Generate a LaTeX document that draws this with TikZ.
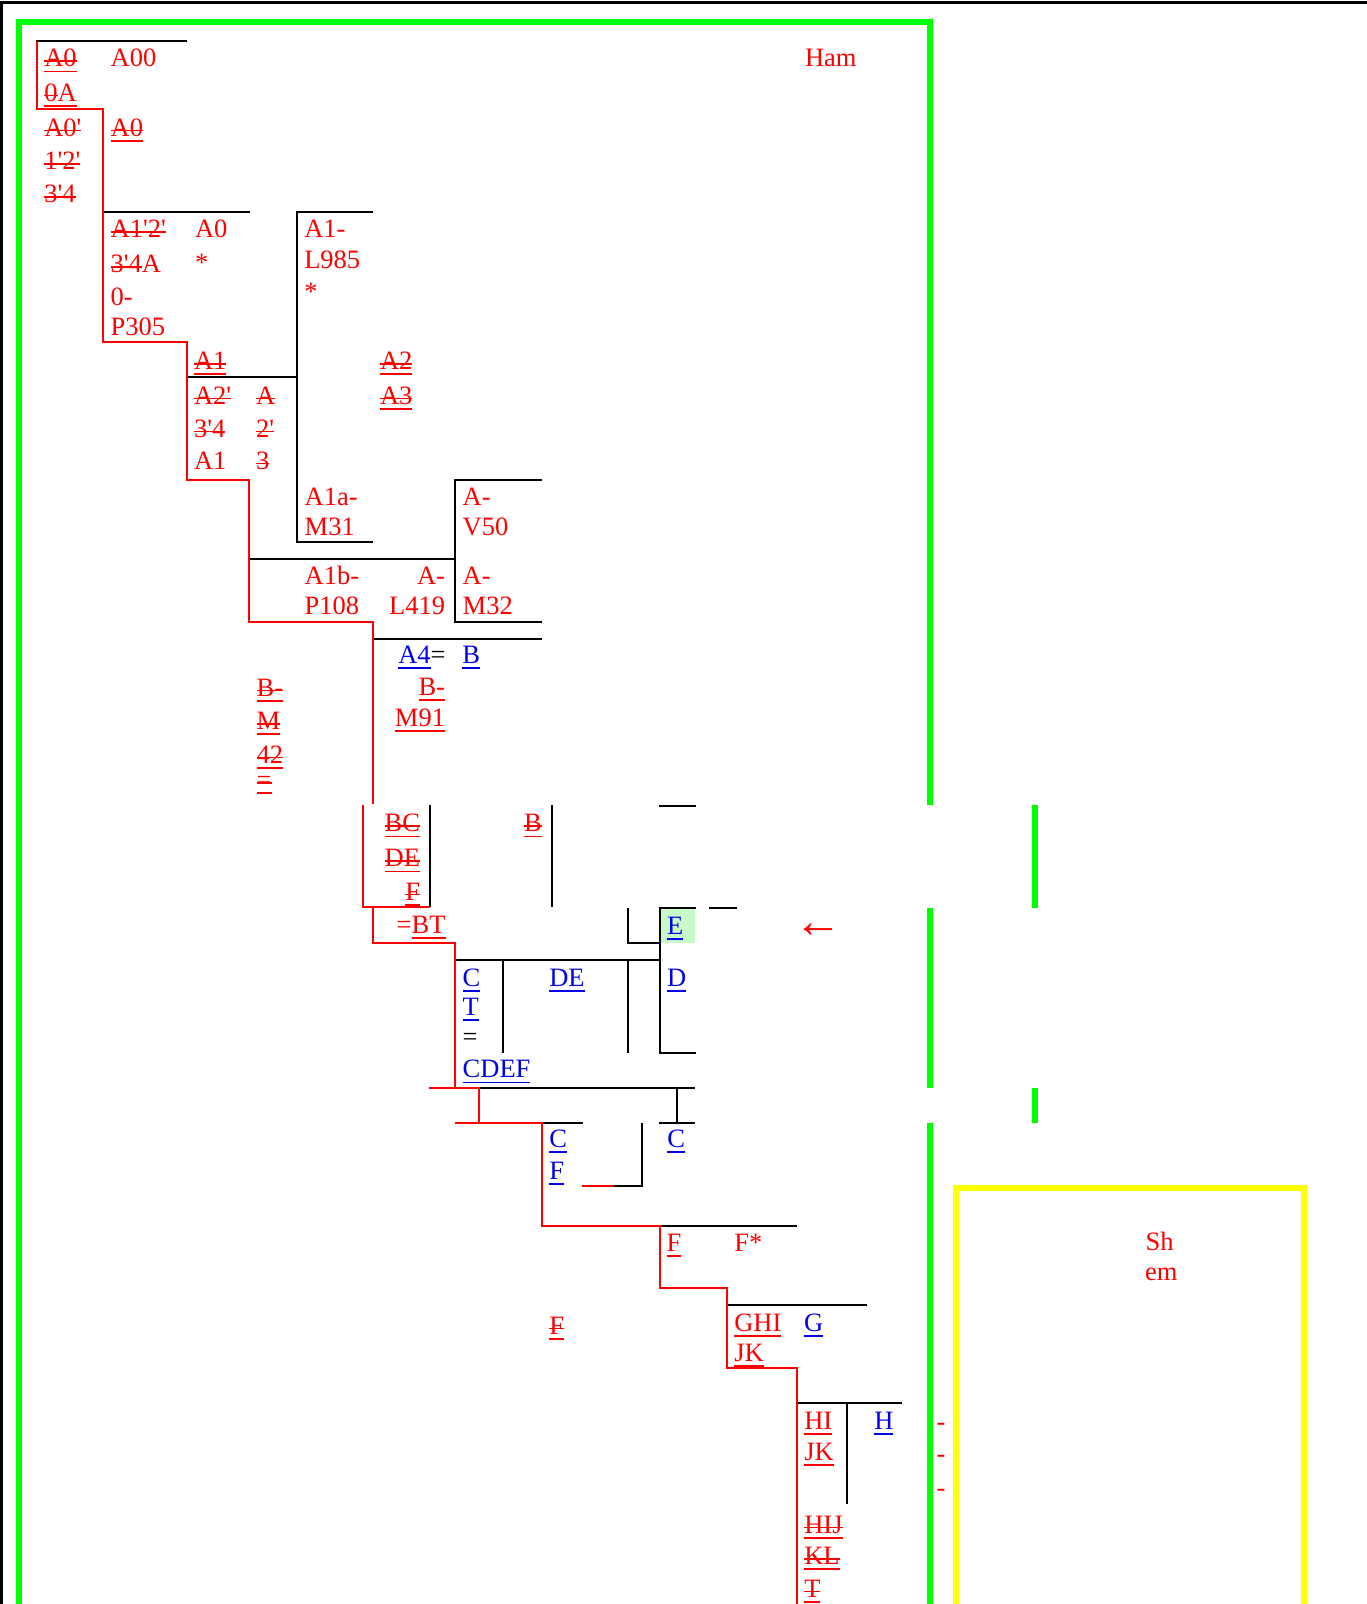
\documentclass[tikz,border=0pt]{standalone}
\usepackage{fontspec}
\setmainfont{Liberation Serif}[Ligatures=TeXOff]
\usetikzlibrary{arrows.meta}
\definecolor{hred}{RGB}{255,0,0}
\definecolor{hblue}{RGB}{0,0,238}
\definecolor{lime}{RGB}{0,255,0}
\definecolor{hyel}{RGB}{255,255,0}
\definecolor{ebg}{RGB}{200,250,200}
\newbox\ULbox
\newbox\SObox
\newcommand\UL[1]{\setbox\ULbox=\hbox{#1}\rlap{\rule[-5.6pt]{\wd\ULbox}{1.7pt}}\box\ULbox}
\newcommand\SO[1]{\setbox\SObox=\hbox{#1}\rlap{\rule[4.6pt]{\wd\SObox}{1.7pt}}\box\SObox}
\tikzset{
  txt/.style={anchor=base west, inner sep=0pt, outer sep=0pt, text=hred, font=\fontsize{26.5}{32}\selectfont},
  txtr/.style={txt, anchor=base east},
  bline/.style={line width=2pt, draw=black},
  rline/.style={line width=2pt, draw=hred},
  gframe/.style={line width=5.5pt, draw=lime},
  yframe/.style={line width=5.7pt, draw=hyel},
  kframe/.style={line width=2.7pt, draw=black}
}
\begin{document}
\begin{tikzpicture}[x=1pt,y=-1pt]
\useasboundingbox (0,0) rectangle (1367,1604);
% frames
\draw[kframe] (1.3,1604) -- (1.3,2.7) -- (1367,2.7);
\draw[gframe] (19,1604) -- (19,22) -- (930,22) -- (930,805);
\draw[gframe] (1035,805) -- (1035,907.7);
\draw[gframe] (930,907.7) -- (930,1087.7);
\draw[gframe] (1035,1087.7) -- (1035,1123.3);
\draw[gframe] (930,1123.3) -- (930,1604);
\draw[yframe] (956,1604) -- (956,1188) -- (1304,1188) -- (1304,1604);
% green background of E
\fill[ebg] (660,907.7) rectangle (695,942.7);
% black lines
\draw[bline] (36,41) -- (187,41);
\draw[bline] (102.7,211.7) -- (249.7,211.7);
\draw[bline] (372.7,211.7) -- (296.7,211.7) -- (296.7,542.3) -- (372.7,542.3);
\draw[bline] (186,376.7) -- (296.7,376.7);
\draw[bline] (541.7,480) -- (455,480) -- (455,621.7) -- (541.7,621.7);
\draw[bline] (249,559) -- (455,559);
\draw[bline] (372.7,639) -- (541.7,639);
\draw[bline] (430,805) -- (430,907.3);
\draw[bline] (552,805) -- (552,907.3);
\draw[bline] (659,806) -- (696,806);
\draw[bline] (659,907.7) -- (696,907.7);
\draw[bline] (709,907.7) -- (736.7,907.7);
\draw[bline] (627.7,907.7) -- (627.7,943) -- (660,943);
\draw[bline] (660,907.7) -- (660,1052.7) -- (696,1052.7);
\draw[bline] (454.7,960) -- (660,960);
\draw[bline] (502.7,960) -- (502.7,1052.7);
\draw[bline] (628,960) -- (628,1052.7);
\draw[bline] (478.7,1087.7) -- (695,1087.7);
\draw[bline] (677,1087.7) -- (677,1123.3);
\draw[bline] (659.3,1123.3) -- (695,1123.3);
\draw[bline] (542.3,1123.3) -- (582.7,1123.3);
\draw[bline] (642,1123.3) -- (642,1185.7) -- (614,1185.7);
\draw[bline] (660,1225.7) -- (796.7,1225.7);
\draw[bline] (727,1305) -- (866.7,1305);
\draw[bline] (796.7,1402.7) -- (901.7,1402.7);
\draw[bline] (847,1402.7) -- (847,1504.3);
% red lines
\draw[rline] (36.7,41) -- (36.7,108.7) -- (102.7,108.7) -- (102.7,342.3) -- (186.5,342.3) -- (186.5,480) -- (249,480) -- (249,621.7) -- (372.7,621.7) -- (372.7,804.3);
\draw[rline] (363.3,805) -- (363.3,907.3) -- (430,907.3);
\draw[rline] (372.7,907.3) -- (372.7,942.7) -- (454.7,942.7) -- (454.7,1087.7);
\draw[rline] (429.3,1087.7) -- (478.7,1087.7) -- (478.7,1123.3);
\draw[rline] (455,1123.3) -- (542.3,1123.3) -- (542.3,1225.7) -- (660,1225.7) -- (660,1287.7) -- (727,1287.7) -- (727,1367.7) -- (796.7,1367.7) -- (796.7,1604);
\draw[rline] (582.3,1185.7) -- (614,1185.7);
% texts, block 1
\node[txt] (t1) at (44.3,66.7) {\UL{\SO{A0}}};
\node[txt] (t2) at (44.3,101) {\UL{\SO{0}A}};
\node[txt] (t3) at (110.7,66.7) {A00};
\node[txt] (t4) at (44.3,136) {\SO{A0'}};
\node[txt] (t5) at (44.3,169.5) {\SO{1'2'}};
\node[txt] (t6) at (44.3,202.5) {\SO{3'4}};
\node[txt] (t7) at (110.7,136) {\UL{\SO{A0}}};
\node[txt] (t8) at (110.7,237.5) {\SO{A1'2'}};
\node[txt] (t9) at (110.7,272.5) {\SO{3'4}A};
\node[txt] (t10) at (110.7,305) {0-};
\node[txt] (t11) at (110.7,335.5) {P305};
\node[txt] (t12) at (195,237.5) {A0};
\node[txt] (t13) at (195,271) {*};
\node[txt] (t14) at (304.3,237.5) {A1-};
\node[txt] (t15) at (304.3,268.5) {L985};
\node[txt] (t16) at (304.3,300) {*};
% block 2
\node[txt] (t17) at (194,369.5) {\UL{\SO{A1}}};
\node[txt] (t18) at (194,404) {\SO{A2'}};
\node[txt] (t19) at (194,437) {\SO{3'4}};
\node[txt] (t20) at (194,469) {A1};
\node[txt] (t21) at (256,404) {\SO{A}};
\node[txt] (t22) at (256,437) {\SO{2'}};
\node[txt] (t23) at (256,469) {\SO{3}};
\node[txt] (t24) at (380,369.5) {\UL{\SO{A2}}};
\node[txt] (t25) at (380,404) {\UL{\SO{A3}}};
\node[txt] (t26) at (304.7,505.7) {A1a-};
\node[txt] (t27) at (304.7,535.3) {M31};
\node[txt] (t28) at (462.7,505.7) {A-};
\node[txt] (t29) at (462.7,535.3) {V50};
\node[txt] (t30) at (304.7,584.7) {A1b-};
\node[txt] (t31) at (304.7,614) {P108};
\node[txtr] (t32) at (445,584.7) {A-};
\node[txtr] (t33) at (445,614) {L419};
\node[txt] (t34) at (462.7,584.7) {A-};
\node[txt] (t35) at (462.7,614) {M32};
% block 3
\node[txt] (t36) at (398.3,663) {\textcolor{hblue}{\UL{A4}}\textcolor{black}{=}};
\node[txt, text=hblue] (t37) at (462.3,663) {\UL{B}};
\node[txtr] (t38) at (445,695) {\UL{B-}};
\node[txtr] (t39) at (445,726) {\UL{M91}};
\node[txt] (t40) at (256.7,696) {\UL{\SO{B-}}};
\node[txt] (t41) at (256.7,729.5) {\UL{\SO{M}}};
\node[txt] (t42) at (256.7,763) {\UL{\SO{42}}};
\node[txt] (t43) at (256.7,788.5) {\UL{\SO{=}}};
% block 4
\node[txtr] (t44) at (420,831.7) {\UL{\SO{BC}}};
\node[txtr] (t45) at (420,866.7) {\UL{\SO{DE}}};
\node[txtr] (t46) at (420,900) {\UL{\SO{F}}};
\node[txt] (t47) at (396.7,933.3) {=\UL{BT}};
\node[txtr] (t48) at (541.7,831.7) {\UL{\SO{B}}};
\node[txt, text=hblue] (t49) at (667,934) {\UL{E}};
\node[txt, text=hblue] (t50) at (667,986) {\UL{D}};
\node[txt, text=hblue] (t51) at (462.7,986) {\UL{C}};
\node[txt, text=hblue] (t52) at (462.7,1015.5) {\UL{T}};
\node[txt, text=black] (t53) at (462.7,1045) {=};
\node[txt, text=hblue] (t54) at (462.7,1077.7) {\UL{CDEF}};
\node[txt, text=hblue] (t55) at (549.3,986) {\UL{DE}};
\node[txt, text=hblue] (t56) at (549.3,1147.5) {\UL{C}};
\node[txt, text=hblue] (t57) at (549.3,1179.5) {\UL{F}};
\node[txt, text=hblue] (t58) at (667.3,1147.5) {\UL{C}};
\node[txt] (t59) at (794,937.5) {\scalebox{1.8}{←}};
% block 5
\node[txt] (t60) at (666.7,1251) {\UL{F}};
\node[txt] (t61) at (734.3,1251) {F*};
\node[txt] (t62) at (549.3,1334) {\UL{\SO{F}}};
\node[txt] (t63) at (734.3,1331) {\UL{GHI}};
\node[txt] (t64) at (734.3,1361.5) {\UL{JK}};
\node[txt, text=hblue] (t65) at (804,1331) {\UL{G}};
\node[txt] (t66) at (804.3,1429) {\UL{HI}};
\node[txt] (t67) at (804.3,1460) {\UL{JK}};
\node[txt, text=hblue] (t68) at (874.3,1429) {\UL{H}};
\node[txt] (t69) at (804.3,1533) {\UL{\SO{HIJ}}};
\node[txt] (t70) at (804.3,1564.5) {\UL{\SO{KL}}};
\node[txt] (t71) at (804.3,1597) {\UL{\SO{T}}};
% others
\node[txt] (ham) at (805,66.5) {Ham};
\node[txt] (sh) at (1145.7,1250.5) {Sh};
\node[txt] (em) at (1145,1280.5) {em};
\node[txt] (d1) at (936.7,1430) {-};
\node[txt] (d2) at (936.7,1462.7) {-};
\node[txt] (d3) at (936.7,1496.7) {-};
\end{tikzpicture}
\end{document}
